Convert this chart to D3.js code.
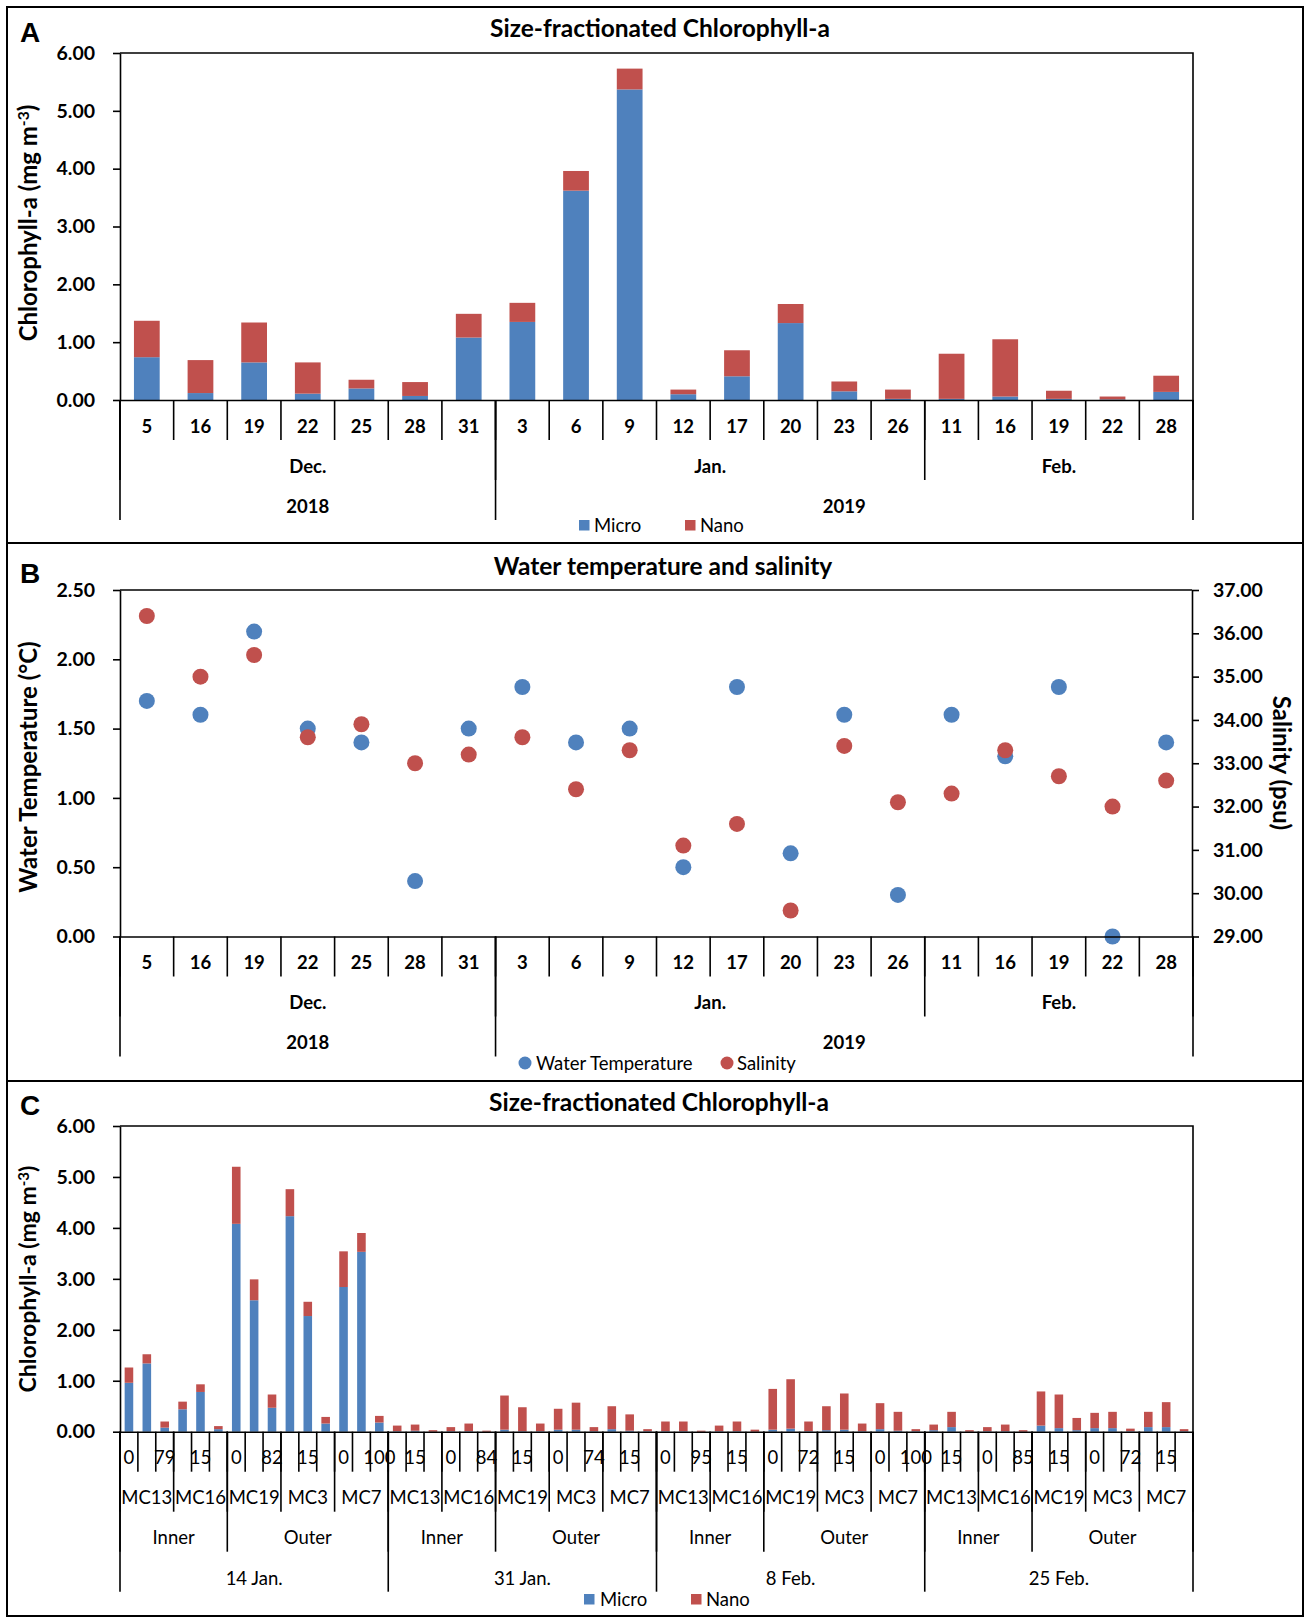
<!DOCTYPE html>
<html>
<head>
<meta charset="utf-8">
<script src="https://cdn.jsdelivr.net/npm/d3@7"></script>
<style>
  body { margin: 0; background: #fff; }
  svg { display: block; font-family: Lato, "Open Sans", sans-serif; }
</style>
</head>
<body>
<svg id="chart"></svg>
<script>
// ---- data: panel A / B (sampling days) ----
const aDays = ["5", "16", "19", "22", "25", "28", "31", "3", "6", "9", "12", "17", "20", "23", "26", "11", "16", "19", "22", "28"];
const aMonth = ["Dec.", "Dec.", "Dec.", "Dec.", "Dec.", "Dec.", "Dec.",
  "Jan.", "Jan.", "Jan.", "Jan.", "Jan.", "Jan.", "Jan.", "Jan.",
  "Feb.", "Feb.", "Feb.", "Feb.", "Feb."];
const aYear = ["2018", "2018", "2018", "2018", "2018", "2018", "2018",
  "2019", "2019", "2019", "2019", "2019", "2019", "2019", "2019",
  "2019", "2019", "2019", "2019", "2019"];
const aMicro = [0.74, 0.12, 0.65, 0.11, 0.20, 0.07, 1.08, 1.35, 3.62, 5.37, 0.10, 0.41, 1.33, 0.15, 0.02, 0.02, 0.06, 0.02, 0.01, 0.14];
const aNano = [0.63, 0.57, 0.69, 0.54, 0.15, 0.24, 0.41, 0.33, 0.34, 0.36, 0.08, 0.45, 0.33, 0.17, 0.16, 0.78, 0.99, 0.14, 0.05, 0.28];
const bTemp = [1.70, 1.60, 2.20, 1.50, 1.40, 0.40, 1.50, 1.80, 1.40, 1.50, 0.50, 1.80, 0.60, 1.60, 0.30, 1.60, 1.30, 1.80, 0.00, 1.40];
const bSal = [36.4, 35.0, 35.5, 33.6, 33.9, 33.0, 33.2, 33.6, 32.4, 33.3, 31.1, 31.6, 29.6, 33.4, 32.1, 32.3, 33.3, 32.7, 32.0, 32.6];

// ---- data: panel C (cruise x station x depth) ----
const cDates = ["14 Jan.", "31 Jan.", "8 Feb.", "25 Feb."];
const cStations = ["MC13", "MC16", "MC19", "MC3", "MC7"];
const cRegions = ["Inner", "Inner", "Outer", "Outer", "Outer"];
const cDepths = [
  [[0, 15, 79], [0, 15, 84], [0, 15, 82], [0, 15, 74], [0, 15, 100]],
  [[0, 15, 79], [0, 15, 84], [0, 15, 82], [0, 15, 74], [0, 15, 100]],
  [[0, 15, 95], [0, 15, 84], [0, 15, 72], [0, 15, 74], [0, 15, 100]],
  [[0, 15, 95], [0, 15, 85], [0, 15, 72], [0, 15, 72], [0, 15, 100]]
];
const cMicro = [
  [0.96, 1.34, 0.08, 0.44, 0.78, 0.05, 4.08, 2.58, 0.47, 4.23, 2.27, 0.16, 2.84, 3.53, 0.18],
  [0.01, 0.02, 0.00, 0.01, 0.01, 0.00, 0.04, 0.01, 0.01, 0.04, 0.04, 0.01, 0.05, 0.02, 0.01],
  [0.01, 0.01, 0.00, 0.01, 0.01, 0.00, 0.04, 0.06, 0.01, 0.03, 0.04, 0.01, 0.05, 0.02, 0.01],
  [0.03, 0.09, 0.00, 0.01, 0.01, 0.00, 0.12, 0.07, 0.03, 0.07, 0.07, 0.01, 0.09, 0.09, 0.01]
];
const cNano = [
  [0.30, 0.18, 0.12, 0.15, 0.15, 0.06, 1.12, 0.41, 0.26, 0.53, 0.28, 0.13, 0.70, 0.37, 0.13],
  [0.11, 0.12, 0.03, 0.08, 0.15, 0.02, 0.67, 0.47, 0.15, 0.41, 0.53, 0.08, 0.45, 0.32, 0.04],
  [0.19, 0.19, 0.02, 0.11, 0.19, 0.04, 0.80, 0.97, 0.19, 0.47, 0.71, 0.15, 0.51, 0.37, 0.04],
  [0.11, 0.30, 0.03, 0.08, 0.13, 0.03, 0.67, 0.66, 0.24, 0.30, 0.32, 0.05, 0.30, 0.49, 0.04]
];

const BLUE = "#4F81BD", RED = "#C0504D";
const W = 1311, H = 1624;
const plotL = 120, plotR = 1193;

const svg = d3.select("#chart").attr("width", W).attr("height", H);

// outer frame and panel dividers
svg.append("rect").attr("x", 7).attr("y", 7).attr("width", 1296).attr("height", 1609)
  .attr("fill", "none").attr("stroke", "#000").attr("stroke-width", 2);
[543, 1081].forEach(y => svg.append("line").attr("x1", 7).attr("x2", 1303)
  .attr("y1", y).attr("y2", y).attr("stroke", "#000").attr("stroke-width", 2));

// consecutive runs of equal keys -> groups
function runs(keys, labels) {
  const out = [];
  keys.forEach((k, i) => {
    const last = out[out.length - 1];
    if (last && last.key === k) last.end = i;
    else out.push({ key: k, label: labels[i], start: i, end: i });
  });
  return out;
}

// multi-level category axis (Excel style)
function catAxis(g, x, y0, levels, opt) {
  const bw = x.bandwidth();
  levels.forEach((lv, L) => {
    const yTick = y0 + 40 * (L + 1);
    const yText = y0 + 26 + 40 * L + (L === levels.length - 1 ? (opt.lastShift || 0) : 0);
    const groups = runs(lv.keys, lv.labels);
    const edges = new Set();
    groups.forEach(gr => { edges.add(gr.start); edges.add(gr.end + 1); });
    g.append("g").selectAll("line").data([...edges]).join("line")
      .attr("x1", i => x(i) !== undefined ? x(i) : x(i - 1) + bw)
      .attr("x2", i => x(i) !== undefined ? x(i) : x(i - 1) + bw)
      .attr("y1", y0).attr("y2", yTick)
      .attr("stroke", "#000").attr("stroke-width", 1.6);
    if (L === 0) {
      const ax = g.append("g").attr("transform", `translate(0,${y0})`)
        .call(d3.axisBottom(x).tickSize(0)
          .tickFormat(i => (i % (opt.every || 1) === 0 ? lv.labels[i] : "")));
      ax.select(".domain").attr("stroke", "#000").attr("stroke-width", 1.6);
      ax.selectAll("text").attr("y", 26).attr("dy", "0.36em")
        .attr("font-size", opt.size).attr("font-weight", opt.weight).attr("fill", "#000")
        .attr("font-family", "Lato, sans-serif");
    } else {
      g.append("g").selectAll("text").data(groups).join("text")
        .attr("x", gr => (x(gr.start) + x(gr.end) + bw) / 2)
        .attr("y", yText).attr("dy", "0.36em")
        .attr("text-anchor", "middle")
        .attr("font-size", opt.size).attr("font-weight", opt.weight)
        .text(gr => gr.label);
    }
  });
}

function yAxisLeft(g, y, ticks) {
  const ax = g.append("g").attr("transform", `translate(${plotL},0)`)
    .call(d3.axisLeft(y).tickValues(ticks).tickFormat(d3.format(".2f")).tickSize(7).tickPadding(18).tickSizeOuter(0));
  ax.selectAll("line").attr("stroke", "#000").attr("stroke-width", 1.6);
  ax.select(".domain").attr("stroke", "#000").attr("stroke-width", 1.6);
  ax.selectAll("text").attr("font-size", 19.5).attr("font-weight", "bold").attr("fill", "#000")
    .attr("font-family", "Lato, sans-serif");
}

function frameTopRight(g, yTop, yBot) {
  g.append("path").attr("d", `M${plotL},${yTop}H${plotR}V${yBot}`)
    .attr("fill", "none").attr("stroke", "#000").attr("stroke-width", 1.6);
}

function label(g, txt, x, y, size, weight, anchor, rot) {
  const t = g.append("text").attr("x", x).attr("y", y).attr("dy", "0.36em")
    .attr("font-size", size).attr("font-weight", weight)
    .attr("text-anchor", anchor || "middle").text(txt);
  if (rot) t.attr("transform", `rotate(${rot},${x},${y})`);
  return t;
}

function chlTitle(g, x, y, size) {
  const t = g.append("text").attr("transform", `translate(${x},${y}) rotate(-90)`)
    .attr("text-anchor", "middle").attr("dy", "0.36em")
    .attr("font-size", size).attr("font-weight", "bold");
  t.append("tspan").text("Chlorophyll-a (mg m");
  t.append("tspan").attr("font-size", size * 0.65).attr("dy", "-0.5em").text("-3");
  t.append("tspan").attr("dy", "0.3em").text(")");
}

function stackBars(g, x, y, micro, nano) {
  const rows = micro.map((m, i) => ({ i, micro: m, nano: nano[i] }));
  const series = d3.stack().keys(["micro", "nano"])(rows);
  const xb = x.copy().paddingInner(0.52).paddingOuter(0.26);
  g.append("g").selectAll("g").data(series).join("g")
    .attr("fill", s => (s.key === "micro" ? BLUE : RED))
    .selectAll("rect").data(s => s).join("rect")
    .attr("x", d => xb(d.data.i)).attr("width", xb.bandwidth())
    .attr("y", d => y(d[1])).attr("height", d => y(d[0]) - y(d[1]));
}

const n = aDays.length;
const xA = d3.scaleBand().domain(d3.range(n)).range([plotL, plotR]);

// ================= Panel A =================
const gA = svg.append("g");
const yA = d3.scaleLinear().domain([0, 6]).range([400, 53]);
label(gA, "A", 20, 32, 28, "bold", "start").attr("font-family", "Arial, Liberation Sans, sans-serif");
label(gA, "Size-fractionated Chlorophyll-a", 660, 28, 24.5, "bold");
stackBars(gA, xA, yA, aMicro, aNano);
frameTopRight(gA, 53, 400);
yAxisLeft(gA, yA, d3.range(0, 6.01, 1));
catAxis(gA, xA, 400, [
  { keys: d3.range(n), labels: aDays },
  { keys: aMonth.map((m, i) => aYear[i] + m), labels: aMonth },
  { keys: aYear, labels: aYear }
], { size: 18.5, weight: "bold" });
chlTitle(gA, 28, 223, 24);
// legend
gA.append("rect").attr("x", 579).attr("y", 520).attr("width", 10.5).attr("height", 10.5).attr("fill", BLUE);
label(gA, "Micro", 594, 525, 18.5, "normal", "start");
gA.append("rect").attr("x", 685).attr("y", 520).attr("width", 10.5).attr("height", 10.5).attr("fill", RED);
label(gA, "Nano", 700, 525, 18.5, "normal", "start");

// ================= Panel B =================
const gB = svg.append("g");
const yT = d3.scaleLinear().domain([0, 2.5]).range([936.5, 590]);
const yS = d3.scaleLinear().domain([29, 37]).range([936.5, 590]);
label(gB, "B", 20, 573, 28, "bold", "start").attr("font-family", "Arial, Liberation Sans, sans-serif");
label(gB, "Water temperature and salinity", 663, 566, 24.5, "bold");
gB.append("line").attr("x1", plotL).attr("x2", 1192).attr("y1", 590).attr("y2", 590)
  .attr("stroke", "#000").attr("stroke-width", 1.6);
const cx = i => xA(i) + xA.bandwidth() / 2;
gB.append("g").selectAll("circle").data(bTemp).join("circle")
  .attr("cx", (d, i) => cx(i)).attr("cy", d => yT(d)).attr("r", 8).attr("fill", BLUE);
gB.append("g").selectAll("circle").data(bSal).join("circle")
  .attr("cx", (d, i) => cx(i)).attr("cy", d => yS(d)).attr("r", 8).attr("fill", RED);
yAxisLeft(gB, yT, d3.range(0, 2.51, 0.5));
const axR = gB.append("g").attr("transform", "translate(1192,0)")
  .call(d3.axisRight(yS).tickValues(d3.range(29, 37.01, 1)).tickFormat(d3.format(".2f")).tickSize(7).tickPadding(14).tickSizeOuter(0));
axR.selectAll("line").attr("stroke", "#000").attr("stroke-width", 1.6);
axR.select(".domain").attr("stroke", "#000").attr("stroke-width", 1.6);
axR.selectAll("text").attr("font-size", 19.5).attr("font-weight", "bold").attr("fill", "#000")
  .attr("font-family", "Lato, sans-serif");
catAxis(gB, xA, 936.5, [
  { keys: d3.range(n), labels: aDays },
  { keys: aMonth.map((m, i) => aYear[i] + m), labels: aMonth },
  { keys: aYear, labels: aYear }
], { size: 18.5, weight: "bold" });
label(gB, "Water Temperature (°C)", 28, 767, 24, "bold", "middle", -90);
label(gB, "Salinity (psu)", 1282, 763, 24, "bold", "middle", 90);
gB.append("circle").attr("cx", 525).attr("cy", 1063).attr("r", 6.5).attr("fill", BLUE);
label(gB, "Water Temperature", 536, 1063, 18.5, "normal", "start");
gB.append("circle").attr("cx", 727).attr("cy", 1063).attr("r", 6.5).attr("fill", RED);
label(gB, "Salinity", 737, 1063, 18.5, "normal", "start");

// ================= Panel C =================
const cRows = [];
cDates.forEach((dt, di) => cStations.forEach((st, si) => cDepths[di][si].forEach((dp, k) => {
  cRows.push({ date: dt, region: cRegions[si], station: st, depth: String(dp),
    micro: cMicro[di][si * 3 + k], nano: cNano[di][si * 3 + k] });
})));
const gC = svg.append("g");
const xC = d3.scaleBand().domain(d3.range(cRows.length)).range([plotL, plotR]);
const yC = d3.scaleLinear().domain([0, 6]).range([1431.7, 1126]);
label(gC, "C", 20, 1105, 28, "bold", "start").attr("font-family", "Arial, Liberation Sans, sans-serif");
label(gC, "Size-fractionated Chlorophyll-a", 659, 1102, 24.5, "bold");
stackBars(gC, xC, yC, cRows.map(r => r.micro), cRows.map(r => r.nano));
frameTopRight(gC, 1126, 1431.7);
yAxisLeft(gC, yC, d3.range(0, 6.01, 1));
catAxis(gC, xC, 1431.7, [
  { keys: d3.range(cRows.length), labels: cRows.map(r => r.depth) },
  { keys: cRows.map(r => r.date + r.station), labels: cRows.map(r => r.station) },
  { keys: cRows.map(r => r.date + r.region), labels: cRows.map(r => r.region) },
  { keys: cRows.map(r => r.date), labels: cRows.map(r => r.date) }
], { size: 18.5, weight: "normal", every: 2, lastShift: 1 });
chlTitle(gC, 28, 1279, 23);
gC.append("rect").attr("x", 584).attr("y", 1594).attr("width", 10.5).attr("height", 10.5).attr("fill", BLUE);
label(gC, "Micro", 600, 1599, 18.5, "normal", "start");
gC.append("rect").attr("x", 691).attr("y", 1594).attr("width", 10.5).attr("height", 10.5).attr("fill", RED);
label(gC, "Nano", 706, 1599, 18.5, "normal", "start");
</script>
</body>
</html>
